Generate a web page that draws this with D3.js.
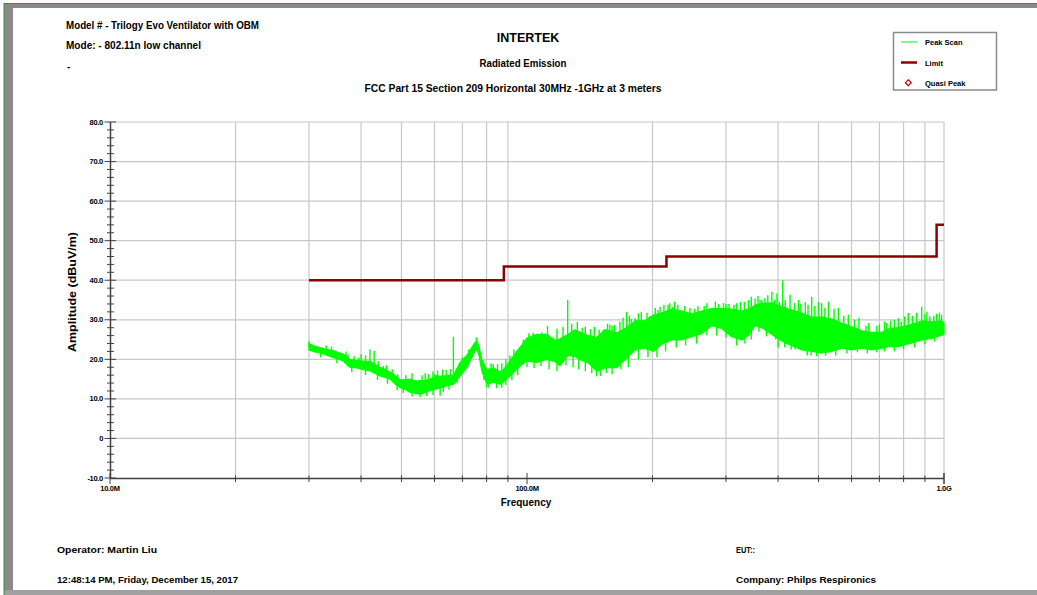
<!DOCTYPE html>
<html><head><meta charset="utf-8">
<script src="https://cdn.jsdelivr.net/npm/d3@7/dist/d3.min.js"></script>
<style>
body{margin:0;background:#fff}
svg{display:block}
text{font-family:"Liberation Sans",Arial,sans-serif;font-weight:bold;fill:#000}
</style>
</head><body>
<svg id="c" width="1037" height="595"></svg>
<script>
// ---------- data ----------
const yTicks = [-10, 0, 10, 20, 30, 40, 50, 60, 70, 80];
const yTickLabels = ["-10.0", "0", "10.0", "20.0", "30.0", "40.0", "50.0", "60.0", "70.0", "80.0"];
const xTickMHz = [10, 100, 1000];
const xTickLabels = ["10.0M", "100.0M", "1.0G"];
const xGridMHz = [20, 30, 40, 50, 60, 70, 80, 90, 200, 300, 400, 500, 600, 700, 800, 900, 1000];

const limitMHz = [30, 88, 88, 216, 216, 960, 960, 1000];
const limitDb  = [40, 40, 43.5, 43.5, 46, 46, 54, 54];

const scanMHz = [30.0, 31.0, 31.9, 33.0, 34.3, 35.3, 36.3, 37.6, 38.8, 40.1, 42.0, 43.2, 44.4, 45.6, 46.9, 48.2, 49.6, 51.0, 52.4, 54.0,
  55.4, 57.0, 58.5, 60.7, 62.5, 64.2, 66.6, 69.1, 71.7, 73.7, 75.7, 76.8, 77.9, 80.0, 81.5, 83.1, 86.1, 88.0, 90.2, 92.3,
  94.5, 97.0, 99.8, 105.5, 111.5, 116.8, 120, 125.2, 130.3, 135, 140.3, 146.9, 153.8, 164.1, 173.4, 181.6, 191.9, 200.9, 210.4, 222.3,
  235, 248.3, 262.4, 277.3, 293.1, 309.7, 327.3, 339.6, 352.4, 368.9, 386.5, 410.5, 423.4, 456, 481.6, 508.9, 537.9, 568.5, 600.8, 634.8,
  670.9, 708.9, 735.2, 777, 828.6, 884.2, 934.3, 987.4, 1000];
const scanHi = [24.0, 23.3, 23.0, 22.5, 22.2, 21.7, 21.3, 20.0, 19.8, 19.6, 19.5, 18.7, 18.0, 17.5, 16.8, 16.0, 14.8, 14.9, 15.0, 14.5,
  14.6, 14.7, 15.0, 15.8, 15.7, 15.9, 16.0, 19.2, 21.0, 23.0, 24.8, 23.0, 20.0, 17.5, 17.6, 17.8, 16.8, 17.5, 19.0, 20.5,
  22.0, 23.5, 25.3, 26.3, 26.3, 24.8, 25.2, 26.3, 27.5, 26.7, 26.0, 25.5, 27.5, 26.7, 28.0, 29.7, 29.8, 31.2, 31.7, 32.7,
  32.2, 31.5, 32.2, 32.8, 32.8, 32.7, 32.2, 32.7, 33.7, 34.2, 34.2, 33.2, 32.7, 31.7, 30.7, 30.7, 30.2, 29.2, 28.2, 27.2,
  26.8, 26.8, 27.7, 28.0, 28.7, 29.7, 29.5, 29.7, 29.3];
const scanLo = [22.3, 21.9, 21.6, 21.1, 20.4, 20.1, 19.5, 18.0, 17.9, 17.5, 17.1, 16.4, 15.8, 15.4, 15.0, 13.8, 12.9, 12.4, 11.7, 11.4,
  11.2, 11.6, 12.1, 12.5, 12.9, 13.3, 13.7, 15.8, 17.9, 20.4, 22.7, 20.8, 17.1, 13.9, 13.9, 14.2, 13.7, 14.4, 15.4, 16.4,
  17.5, 18.6, 19.6, 19.2, 20.0, 19.4, 18.4, 21.0, 20.7, 19.8, 19.1, 17.0, 17.9, 17.9, 20.3, 22.4, 22.8, 22.0, 23.8, 24.9,
  24.9, 25.7, 26.5, 28.5, 27.8, 25.7, 24.9, 26.1, 28.5, 27.8, 26.3, 24.5, 23.8, 22.4, 22.0, 21.6, 22.0, 22.8, 22.4, 22.8,
  22.4, 22.8, 23.2, 23.2, 24.0, 24.9, 25.3, 26.1, 26.3];

const spikeMHz = [30.0, 31.0, 32.5, 33.0, 34.0, 35.5, 36.8, 37.2, 38.5, 39.5, 40.0, 41.0, 42.0, 43.0, 44.0, 45.2, 46.0, 47.5, 49.0, 51.2,
  53.0, 56.0, 57.0, 58.0, 59.5, 60.0, 61.0, 62.8, 64.0, 65.5, 66.6, 68.0, 70.0, 72.5, 74.5, 75.7, 79.0, 82.0, 83.0, 85.0,
  87.0, 89.0, 91.0, 93.0, 96.0, 98.0, 101, 103.5, 108.5, 112, 118, 122, 125.2, 128, 132, 135.6, 138, 142, 145,
  149, 152.4, 156, 158, 160, 162, 167, 170, 173.4, 176, 178, 181.6, 185, 188, 194, 197.4, 203, 206, 208.5, 213,
  217.9, 220, 223.8, 226, 230, 239, 243.1, 246, 252, 257, 262.4, 266, 270, 277.3, 283, 288, 296, 300, 305, 313.5,
  318, 325, 332, 339.6, 345, 352.4, 358, 362, 365.6, 372, 378, 386.5, 392, 397.6, 403, 410.5, 416, 427.4, 438, 447.7,
  452, 465, 472, 481.6, 490, 500, 508.9, 518, 528.3, 545, 558, 575, 589.5, 610, 625, 650, 660, 690, 700, 720,
  729, 745, 760, 777, 790, 805, 821, 840, 860, 884, 900, 910, 925, 945, 960, 975, 987];
const spikeDb = [24.6, 23.3, 22.9, 23.5, 23.2, 21.7, 22.0, 21.3, 20.8, 20.4, 21.3, 21.0, 22.5, 22.1, 19.5, 18.3, 18.5, 17.5, 16.2, 16.0,
  16.5, 16.0, 16.5, 16.3, 17.0, 16.3, 17.2, 17.5, 17.3, 17.5, 25.7, 17.8, 20.5, 22.5, 24.0, 25.6, 18.5, 19.0, 18.8, 18.8,
  19.0, 20.0, 21.0, 22.5, 22.9, 25.0, 26.5, 26.7, 26.8, 28.5, 27.8, 28.2, 35.0, 29.0, 29.5, 28.0, 28.3, 27.6, 28.2,
  27.5, 27.5, 29.0, 28.8, 28.5, 28.7, 29.5, 30.5, 32.0, 31.0, 30.2, 30.4, 31.6, 32.0, 31.8, 30.8, 33.0, 32.5, 33.3, 33.8,
  33.8, 34.2, 33.3, 34.6, 33.8, 33.5, 31.7, 33.0, 32.8, 33.4, 31.7, 33.5, 34.2, 33.0, 34.6, 34.0, 34.2, 34.0, 34.0, 33.8,
  34.2, 34.5, 34.5, 35.0, 35.8, 35.4, 36.0, 35.0, 35.0, 35.5, 36.2, 37.1, 35.0, 36.7, 34.5, 40.0, 35.0, 36.3, 34.2, 35.0,
  34.0, 34.5, 33.8, 35.8, 33.5, 34.5, 34.2, 33.0, 34.6, 32.8, 33.0, 31.0, 31.3, 30.0, 30.5, 28.5, 29.2, 28.5, 28.8, 29.6,
  29.2, 29.8, 30.0, 30.4, 29.5, 30.8, 31.7, 31.0, 31.8, 33.3, 31.5, 32.0, 30.8, 31.0, 31.5, 31.8, 31.3];
const dipMHz = [32, 35, 38, 41, 43.8, 46.3, 48.8, 50.5, 53, 55.4, 57.5, 59.5, 61.9, 63, 65, 68, 78.8, 80.0, 81, 84.5,
  87, 89, 92, 95, 100, 104, 108, 113, 118, 124, 129, 133, 138, 143, 146.9, 150, 155, 160, 168, 175,
  185, 195, 205, 215, 228, 240, 255, 270, 285, 300, 318, 333, 345, 360, 375, 395, 400, 415, 430, 440,
  470, 480, 495, 520, 550, 585, 620, 655, 690, 720, 760, 800, 850, 900, 950];
const dipDb  = [20.5, 19.0, 16.8, 16.0, 14.8, 13.8, 12.2, 11.5, 10.6, 10.4, 10.7, 11.0, 10.8, 11.8, 12.3, 14.0, 14.8, 12.9, 12.8, 12.7,
  12.8, 13.5, 14.8, 16.0, 18.0, 17.8, 18.3, 17.5, 17.0, 18.5, 18.0, 17.5, 17.0, 16.5, 15.7, 15.8, 16.5, 16.2, 17.5, 18.0,
  20.0, 20.5, 20.5, 22.0, 23.0, 23.5, 24.0, 26.0, 26.0, 25.5, 23.5, 24.0, 25.0, 27.0, 25.8, 25.0, 23.0, 23.0, 22.5, 22.5,
  21.0, 21.0, 20.8, 20.9, 21.0, 21.5, 21.8, 21.5, 21.8, 22.0, 22.0, 22.6, 23.0, 23.8, 24.5];

const legendNames = ["Peak Scan", "Limit", "Quasi Peak"];
const headerLeft = ["Model # - Trilogy Evo Ventilator with OBM", "Mode: - 802.11n low channel", "-"];
const titles = ["INTERTEK", "Radiated Emission", "FCC Part 15 Section 209 Horizontal 30MHz -1GHz at 3 meters"];
const footer = ["Operator: Martin Liu", "12:48:14 PM, Friday, December 15, 2017", "EUT::", "Company: Philps Respironics"];

// ---------- drawing ----------
const svg = d3.select("#c");
const x = d3.scaleLog().domain([10, 1000]).range([110, 944]);
const y = d3.scaleLinear().domain([-10, 80]).range([478, 122]);

// frame
svg.append("rect").attr("x", 0).attr("y", 0).attr("width", 1037).attr("height", 595).attr("fill", "#fff");
svg.append("rect").attr("x", 4).attr("y", 3).attr("width", 1033).attr("height", 5).attr("fill", "#8a8a8a");
svg.append("rect").attr("x", 4).attr("y", 3).attr("width", 9).attr("height", 592).attr("fill", "#8a8a8a");
svg.append("rect").attr("x", 4).attr("y", 590).attr("width", 1033).attr("height", 5).attr("fill", "#a0a0a0");
svg.append("line").attr("x1", 4).attr("x2", 1037).attr("y1", 3.5).attr("y2", 3.5).attr("stroke", "#3c8c3c").attr("stroke-width", 1);
svg.append("line").attr("x1", 4).attr("x2", 4).attr("y1", 3).attr("y2", 595).attr("stroke", "#3c8c3c").attr("stroke-width", 1);
svg.append("rect").attr("x", 13).attr("y", 8).attr("width", 1024).attr("height", 582).attr("fill", "#fff");

// header texts
const hl = svg.append("g");
hl.append("text").attr("x", 66).attr("y", 29).attr("font-size", 10).attr("textLength", 193).attr("lengthAdjust", "spacingAndGlyphs").text(headerLeft[0]);
hl.append("text").attr("x", 66).attr("y", 49).attr("font-size", 10).attr("textLength", 135).attr("lengthAdjust", "spacingAndGlyphs").text(headerLeft[1]);
hl.append("text").attr("x", 67).attr("y", 70).attr("font-size", 10).text(headerLeft[2]);

svg.append("text").attr("x", 528).attr("y", 41.5).attr("text-anchor", "middle").attr("font-size", 12.5).text(titles[0]);
svg.append("text").attr("x", 523).attr("y", 67).attr("text-anchor", "middle").attr("font-size", 10).attr("textLength", 87).attr("lengthAdjust", "spacingAndGlyphs").text(titles[1]);
svg.append("text").attr("x", 513).attr("y", 92).attr("text-anchor", "middle").attr("font-size", 10).attr("textLength", 297).attr("lengthAdjust", "spacingAndGlyphs").text(titles[2]);

// legend
const lg = svg.append("g");
lg.append("rect").attr("x", 893.5).attr("y", 32.5).attr("width", 103).attr("height", 57.5).attr("fill", "#fff").attr("stroke", "#8a8a8a").attr("stroke-width", 1.5);
lg.append("line").attr("x1", 901).attr("x2", 917).attr("y1", 42).attr("y2", 42).attr("stroke", "#00ff00").attr("stroke-width", 1);
lg.append("line").attr("x1", 901).attr("x2", 917).attr("y1", 62.5).attr("y2", 62.5).attr("stroke", "#8b0000").attr("stroke-width", 2.5);
lg.append("path").attr("d", d3.symbol(d3.symbolDiamond2, 22)()).attr("transform", "translate(908.3,82.7)").attr("fill", "#fff").attr("stroke", "#c00000").attr("stroke-width", 1.2);
legendNames.forEach((n, i) => {
  lg.append("text").attr("x", 925).attr("y", 45 + i * 20.5).attr("font-size", 7.5).attr("font-weight", "normal").text(n);
});

// grid
const grid = svg.append("g").attr("stroke", "#c8c8c8").attr("stroke-width", 1.2);
xGridMHz.forEach(f => grid.append("line").attr("x1", x(f)).attr("x2", x(f)).attr("y1", y(80)).attr("y2", y(-10)));
yTicks.filter(v => v > -10).forEach(v => grid.append("line").attr("x1", x(10)).attr("x2", x(1000)).attr("y1", y(v)).attr("y2", y(v)));

// limit
const lineGen = d3.line().x(d => x(d[0])).y(d => y(d[1]));
svg.append("path").datum(limitMHz.map((f, i) => [f, limitDb[i]]))
  .attr("d", lineGen).attr("fill", "none").attr("stroke", "#8b0000").attr("stroke-width", 2.5);

// peak scan
const scan = scanMHz.map((f, i) => ({f, hi: scanHi[i], lo: scanLo[i]}));
const g = svg.append("g");
g.append("path").datum(scan)
  .attr("d", d3.area().x(d => x(d.f)).y0(d => y(d.lo)).y1(d => y(d.hi)))
  .attr("fill", "#00ff00").attr("stroke", "#00ff00").attr("stroke-width", 1.2).attr("stroke-linejoin", "bevel");
const hiAt = d3.scaleLog().domain(scanMHz).range(scanHi);
const loAt = d3.scaleLog().domain(scanMHz).range(scanLo);
spikeMHz.forEach((f, i) => {
  g.append("line").attr("x1", x(f)).attr("x2", x(f)).attr("y1", y(spikeDb[i])).attr("y2", y(Math.min(hiAt(f), spikeDb[i]) - 0.5))
    .attr("stroke", "#00ff00").attr("stroke-width", 1.4);
});
dipMHz.forEach((f, i) => {
  g.append("line").attr("x1", x(f)).attr("x2", x(f)).attr("y1", y(dipDb[i])).attr("y2", y(Math.max(loAt(f), dipDb[i]) + 0.5))
    .attr("stroke", "#00ff00").attr("stroke-width", 1.4);
});

// axes
const ax = svg.append("g").attr("stroke", "#404040");
ax.append("line").attr("x1", 110.5).attr("x2", 110.5).attr("y1", y(80)).attr("y2", y(-10)).attr("stroke-width", 1.5);
ax.append("line").attr("x1", 110).attr("x2", 944).attr("y1", 478.5).attr("y2", 478.5).attr("stroke-width", 1.5);
d3.range(-10, 80.1, 2).forEach(v => {
  const major = v % 10 === 0;
  ax.append("line").attr("x1", major ? 104.5 : 107).attr("x2", major ? 116 : 114).attr("y1", y(v)).attr("y2", y(v)).attr("stroke-width", 1);
});
xGridMHz.concat(xTickMHz).forEach(f => {
  const major = xTickMHz.includes(f);
  ax.append("line").attr("x1", x(f)).attr("x2", x(f)).attr("y1", major ? 473 : 475.5).attr("y2", major ? 484 : 482).attr("stroke-width", 1);
});
yTicks.forEach((v, i) => {
  svg.append("text").attr("x", 103).attr("y", y(v) + 2.6).attr("text-anchor", "end").attr("font-size", 7.5).attr("letter-spacing", -0.3).text(yTickLabels[i]);
});
xTickMHz.forEach((f, i) => {
  svg.append("text").attr("x", x(f)).attr("y", 491).attr("text-anchor", "middle").attr("font-size", 7.5).attr("letter-spacing", -0.3).text(xTickLabels[i]);
});
svg.append("text").attr("x", 526).attr("y", 506).attr("text-anchor", "middle").attr("font-size", 10).text("Frequency");
svg.append("text").attr("transform", "translate(75.5,292) rotate(-90)").attr("text-anchor", "middle").attr("font-size", 11)
  .attr("textLength", 120).attr("lengthAdjust", "spacingAndGlyphs").text("Amplitude  (dBuV/m)");

// footer
svg.append("text").attr("x", 57).attr("y", 553).attr("font-size", 9.5).attr("textLength", 100).attr("lengthAdjust", "spacingAndGlyphs").text(footer[0]);
svg.append("text").attr("x", 57).attr("y", 583).attr("font-size", 9.5).attr("textLength", 181).attr("lengthAdjust", "spacingAndGlyphs").text(footer[1]);
svg.append("text").attr("x", 736).attr("y", 553).attr("font-size", 9.5).attr("textLength", 19).attr("lengthAdjust", "spacingAndGlyphs").text(footer[2]);
svg.append("text").attr("x", 736).attr("y", 583).attr("font-size", 9.5).attr("textLength", 140).attr("lengthAdjust", "spacingAndGlyphs").text(footer[3]);
</script>
</body></html>
